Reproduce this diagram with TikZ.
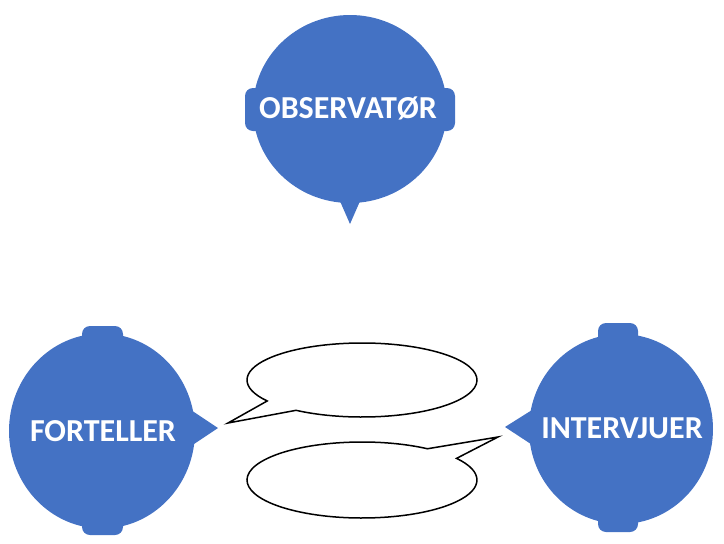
\documentclass[tikz,border=0pt]{standalone}
\usepackage{fontspec}
\setmainfont{Carlito}
\usetikzlibrary{shapes.geometric,backgrounds,positioning}

\definecolor{roleblue}{HTML}{4472C4}

\tikzset{
  role/.style={ellipse, fill=roleblue, inner sep=0pt},
  rolename/.style={text=white, inner sep=0pt,
    font=\fontsize{32}{34}\selectfont\bfseries},
  ear/.style={fill=roleblue, rounded corners=8pt},
  pointer/.style={fill=roleblue},
  bubble/.style={draw=black, line width=1.5pt, fill=white, line join=miter}
}

\begin{document}
\begin{tikzpicture}[x=1pt, y=-1pt]
    \useasboundingbox (0,0) rectangle (724,544);

    % the three roles
    \node[role, minimum width=194pt, minimum height=188pt] (obs) at (350,109) {};
    \node[role, minimum width=186pt, minimum height=195pt] (fort) at (102,431) {};
    \node[role, minimum width=184pt, minimum height=190pt] (intv) at (621,429) {};
    \node[rolename] (obsname) at (348,108) {OBSERVATØR};
    \node[rolename] (fortname) at (103,431) {FORTELLER};
    \node[rolename] (intvname) at (622,428) {INTERVJUER};

    \coordinate (obstip) at (350,224);
    \coordinate (forttip) at (218,428);
    \coordinate (intvtip) at (505,427);

    \begin{scope}[on background layer]
      \fill[ear] (245,88) rectangle (268,131);
      \fill[ear] (432,88) rectangle (455,131);
      \fill[ear] (82,326) rectangle (123,348);
      \fill[ear] (82,513) rectangle (123,535);
      \fill[ear] (598,323) rectangle (638,345);
      \fill[ear] (598,510) rectangle (638,532);
      \fill[pointer] (336,192) -- (obstip) -- (364,192) -- cycle;
      \fill[pointer] (185,406) -- (forttip) -- (185,450) -- cycle;
      \fill[pointer] (540,405) -- (intvtip) -- (540,450) -- cycle;
    \end{scope}

    % speech bubbles
    \coordinate (upper) at (362,380);
    \coordinate (uppertip) at (228,423);
    \coordinate (lower) at (362,480);
    \coordinate (lowertip) at (498,437);
    \draw[bubble] (upper) ++(235:115pt and 37pt)
      arc[start angle=235, end angle=574.5, x radius=115pt, y radius=37pt]
      -- (uppertip) -- cycle;
    \draw[bubble] (lower) ++(55.3:115pt and 38pt)
      arc[start angle=55.3, end angle=394.7, x radius=115pt, y radius=38pt]
      -- (lowertip) -- cycle;

\end{tikzpicture}
\end{document}
